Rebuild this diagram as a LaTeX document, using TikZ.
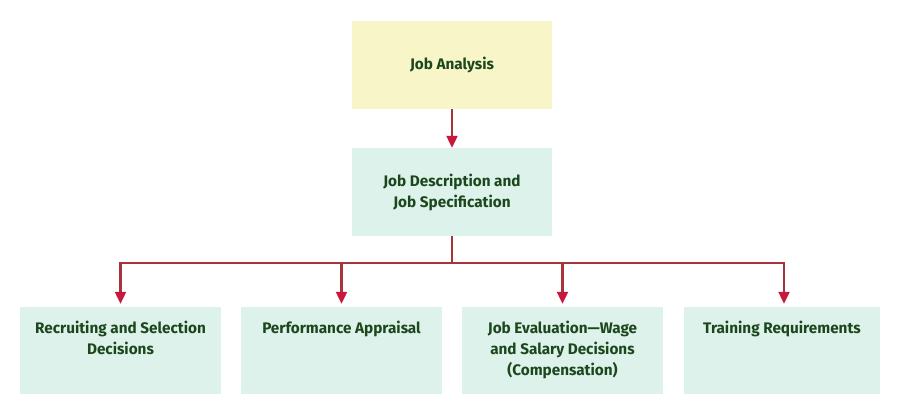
\documentclass[tikz,border=0pt]{standalone}
\usepackage{fontspec}
\setmainfont{Fira Sans}
\usetikzlibrary{arrows.meta,positioning}
\definecolor{boxyellow}{HTML}{F8F6C8}
\definecolor{boxmint}{HTML}{DDF2EA}
\definecolor{txtgreen}{HTML}{1C471C}
\definecolor{linered}{HTML}{A5343C}
\definecolor{tipred}{HTML}{C8193C}
\tikzset{
  box/.style={rectangle, inner sep=0pt, minimum width=200pt, minimum height=88pt},
  boxtext/.style={font=\fontsize{15.3}{21}\selectfont\bfseries, text=txtgreen, align=center, inner sep=0pt},
  conn/.style={draw=linered, line width=2.2pt, -{Triangle[length=12pt,width=11pt,fill=tipred,color=tipred]}},
  plain/.style={draw=linered, line width=2.2pt}
}
\begin{document}
\begin{tikzpicture}[x=1pt,y=-1pt]
\useasboundingbox (0,0) rectangle (912,414);
\fill[white] (0,0) rectangle (912,414);
% top boxes
\node[box, fill=boxyellow] (ja) at (452,65) {};
\node[boxtext] (jat) at (ja.center) {Job Analysis};
\node[box, fill=boxmint] (jd) at (452,192) {};
\node[boxtext] (jdt) at (jd.center) {Job Description and\\Job Specification};
% bottom boxes
\node[box, fill=boxmint, minimum width=201pt, minimum height=87pt] (b1) at (120.5,350.5) {};
\node[box, fill=boxmint, minimum width=201pt, minimum height=87pt] (b2) at (341.5,350.5) {};
\node[box, fill=boxmint, minimum width=201pt, minimum height=87pt] (b3) at (562.5,350.5) {};
\node[box, fill=boxmint, minimum width=196pt, minimum height=87pt] (b4) at (782,350.5) {};
\node[boxtext, anchor=north] (b1t) at ([yshift=-14pt]b1.north) {Recruiting and Selection\\Decisions};
\node[boxtext, anchor=north] (b2t) at ([yshift=-14pt]b2.north) {Performance Appraisal};
\node[boxtext, anchor=north] (b3t) at ([yshift=-14pt]b3.north) {Job Evaluation\textemdash Wage\\and Salary Decisions\\(Compensation)};
\node[boxtext, anchor=north] (b4t) at ([yshift=-14pt]b4.north) {Training Requirements};
% connectors
\draw[conn] (ja.south) -- (jd.north);
\coordinate (hub) at (452,263);
\draw[plain] (jd.south) -- (hub);
\coordinate (l1) at (b1.north |- hub);
\coordinate (l2) at (b2.north |- hub);
\coordinate (l3) at (b3.north |- hub);
\coordinate (l4) at (784,263);
\draw[plain] ([xshift=-1.1pt]l1) -- ([xshift=1.1pt]l4);
\draw[conn] (l1) -- ([yshift=3pt]b1.north);
\draw[conn] (l2) -- ([yshift=3pt]b2.north);
\draw[conn] (l3) -- ([yshift=3pt]b3.north);
\draw[conn] (l4) -- ([yshift=3pt]b4.north -| l4);
\end{tikzpicture}
\end{document}
